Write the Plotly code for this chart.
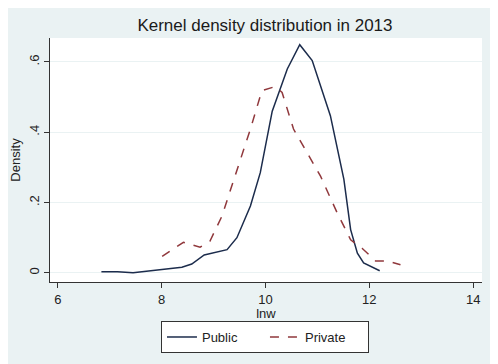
import plotly.graph_objects as go

public_x = [6.84, 7.15, 7.45, 7.97, 8.39, 8.58, 8.82, 9.26, 9.45, 9.71, 9.90, 10.13, 10.42, 10.66, 10.90, 11.25, 11.51, 11.64, 11.77, 11.89, 12.20]
public_y = [0.003, 0.003, 0.0, 0.009, 0.016, 0.025, 0.051, 0.066, 0.100, 0.19, 0.285, 0.46, 0.58, 0.649, 0.604, 0.447, 0.266, 0.123, 0.056, 0.028, 0.006]

private_x = [8.01, 8.42, 8.74, 8.93, 9.16, 9.45, 9.71, 9.93, 10.19, 10.32, 10.54, 10.80, 11.06, 11.38, 11.64, 11.86, 12.12, 12.35, 12.60]
private_y = [0.047, 0.087, 0.073, 0.09, 0.161, 0.294, 0.409, 0.518, 0.53, 0.513, 0.409, 0.342, 0.275, 0.171, 0.094, 0.07, 0.034, 0.034, 0.023]

x_ticks = [6, 8, 10, 12, 14]
y_ticks = [0, 0.2, 0.4, 0.6]
y_tick_labels = ["0", ".2", ".4", ".6"]

BG = "#eaf2f3"
FONT = "Liberation Sans, Arial, sans-serif"

fig = go.Figure()
fig.add_trace(go.Scatter(x=public_x, y=public_y, mode="lines", name="Public",
                         line=dict(color="#1c2c4c", width=1.5)))
fig.add_trace(go.Scatter(x=private_x, y=private_y, mode="lines", name="Private",
                         line=dict(color="#90383c", width=1.5, dash="dash")))

fig.update_layout(
    width=498, height=364,
    margin=dict(l=42, r=24, t=30, b=90, autoexpand=False),
    paper_bgcolor=BG, plot_bgcolor="white",
    font=dict(family=FONT, color="#222222", size=13),
    title=dict(text="Kernel density distribution in 2013", x=0.516, xanchor="center",
               y=0.953, yanchor="middle", font=dict(size=17, color="#1a1a1a")),
    showlegend=True,
    legend=dict(orientation="h", x=0.516, xref="container", xanchor="center",
                y=0.14, yref="container", yanchor="top",
                bordercolor="#333333", borderwidth=1, bgcolor="white",
                font=dict(size=13), entrywidthmode="pixels", entrywidth=58),
    xaxis=dict(range=[5.85, 14.17], tickvals=x_ticks, showgrid=False, zeroline=False,
               automargin=False,
               showline=True, linecolor="#333333", linewidth=1,
               ticks="outside", ticklen=5, tickcolor="#333333",
               title=dict(text="lnw", standoff=0, font=dict(size=13))),
    yaxis=dict(range=[-0.026, 0.668], tickvals=y_ticks, ticktext=y_tick_labels,
               automargin=False,
               tickangle=-90, showgrid=True, gridcolor=BG, gridwidth=1, zeroline=False,
               showline=True, linecolor="#333333", linewidth=1,
               ticks="outside", ticklen=5, tickcolor="#333333",
               title=dict(text="Density", standoff=6, font=dict(size=13))),
)

fig.write_html("out.html")
